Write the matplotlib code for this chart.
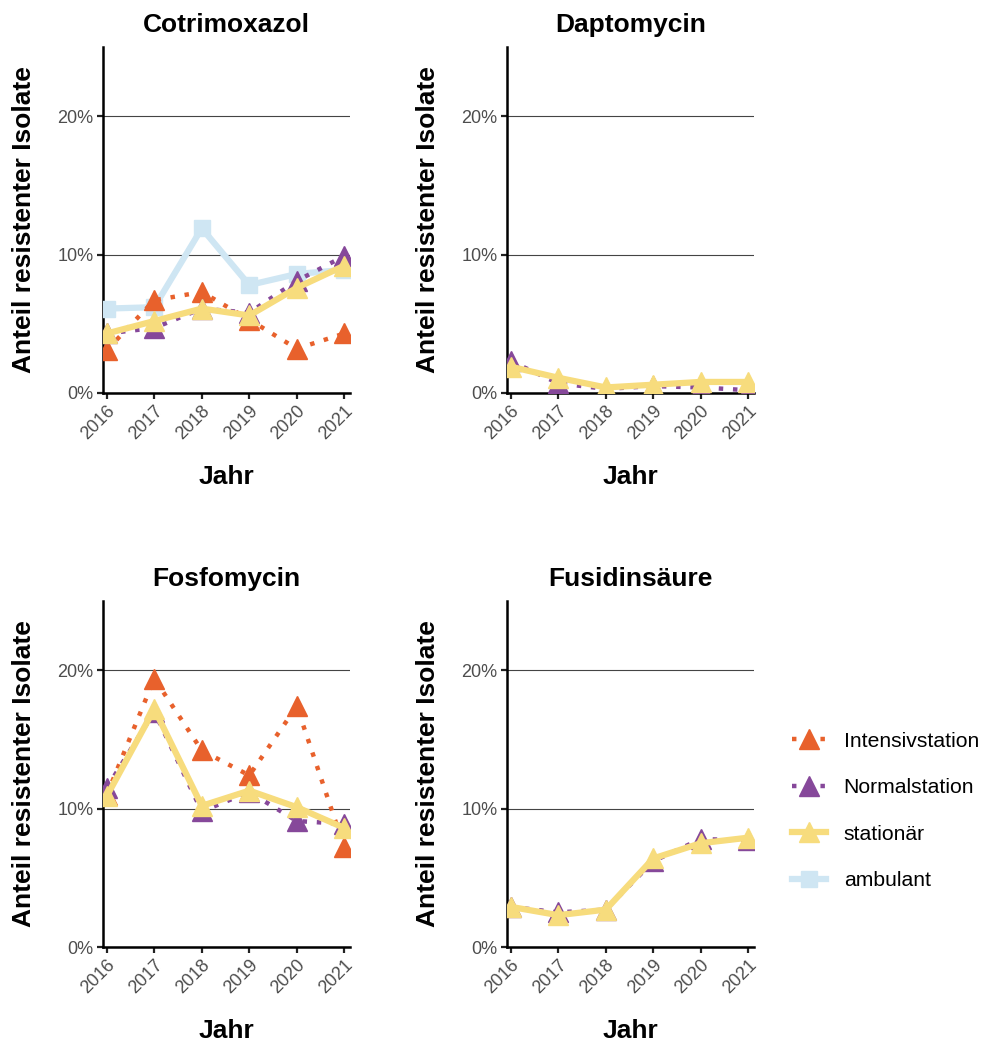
import numpy as np
import matplotlib
matplotlib.use("Agg")
import matplotlib.pyplot as plt
from matplotlib.ticker import FuncFormatter
from matplotlib.lines import Line2D

plt.rcParams['font.family'] = ['Liberation Sans', 'DejaVu Sans']

years = [2016, 2017, 2018, 2019, 2020, 2021]

cotri_intensiv = [3.1, 6.7, 7.3, 5.3, 3.2, 4.3]
cotri_normal = [4.3, 4.7, 6.1, 5.8, 8.1, 9.9]
cotri_station = [4.3, 5.2, 6.1, 5.6, 7.6, 9.2]
cotri_ambulant = [6.1, 6.2, 11.9, 7.8, 8.6, 8.9]

dapto_normal = [2.3, 0.7, 0.3, 0.5, 0.4, 0.2]
dapto_station = [1.9, 1.1, 0.4, 0.6, 0.8, 0.8]

fosfo_intensiv = [11.0, 19.4, 14.2, 12.4, 17.4, 7.2]
fosfo_normal = [11.5, 17.0, 9.8, 11.2, 9.1, 8.9]
fosfo_station = [10.9, 17.2, 10.2, 11.3, 10.1, 8.6]

fusi_normal = [2.9, 2.5, 2.7, 6.2, 7.8, 7.7]
fusi_station = [2.9, 2.3, 2.7, 6.4, 7.5, 7.9]

titles = ["Cotrimoxazol", "Daptomycin", "Fosfomycin", "Fusidinsäure"]
series_labels = ["Intensivstation", "Normalstation", "stationär", "ambulant"]

panels = [
    {"Intensivstation": cotri_intensiv, "Normalstation": cotri_normal,
     "stationär": cotri_station, "ambulant": cotri_ambulant},
    {"Normalstation": dapto_normal, "stationär": dapto_station},
    {"Intensivstation": fosfo_intensiv, "Normalstation": fosfo_normal,
     "stationär": fosfo_station},
    {"Normalstation": fusi_normal, "stationär": fusi_station},
]

styles = {
    "ambulant": dict(color="#CFE6F3", ls="-", lw=4.5, marker="s", ms=12),
    "Intensivstation": dict(color="#E8612C", ls=(0, (1, 2.2)), lw=3.2, marker="^", ms=14),
    "Normalstation": dict(color="#86489A", ls=(0, (1, 2.2)), lw=3.2, marker="^", ms=14),
    "stationär": dict(color="#F7DC7D", ls="-", lw=4.5, marker="^", ms=14),
}
draw_order = ["ambulant", "Intensivstation", "Normalstation", "stationär"]

fig = plt.figure(figsize=(9.83, 10.42), dpi=100)
W, H = 983, 1042
lefts = [103, 507]
tops = [47, 601]
aw, ah = 247, 346

for i, (title, data) in enumerate(zip(titles, panels)):
    r, c = divmod(i, 2)
    l = lefts[c]; t = tops[r]
    ax = fig.add_axes([l / W, 1 - (t + ah) / H, aw / W, ah / H])
    for name in draw_order:
        if name in data:
            st = styles[name]
            ax.plot(years, data[name], color=st["color"], ls=st["ls"], lw=st["lw"],
                    marker=st["marker"], ms=st["ms"], mec=st["color"], zorder=3,
                    solid_capstyle="butt", dash_capstyle="butt")
    ax.set_xlim(2015.92, 2021.12)
    ax.set_ylim(0, 25)
    ax.set_yticks([0, 10, 20])
    ax.yaxis.set_major_formatter(FuncFormatter(lambda v, p: f"{int(v)}%"))
    ax.set_xticks(years)
    ax.set_xticklabels([str(y) for y in years], rotation=45, ha="right",
                       rotation_mode="anchor")
    ax.grid(axis="y", color="#444444", lw=0.8, zorder=1)
    ax.set_axisbelow(True)
    for s in ["top", "right"]:
        ax.spines[s].set_visible(False)
    for s in ["left", "bottom"]:
        ax.spines[s].set_linewidth(1.8)
        ax.spines[s].set_color("black")
    ax.tick_params(axis="both", labelcolor="#4D4D4D", labelsize=13, length=4,
                   width=1.6, color="#222222", pad=3)
    ax.set_title(title, fontsize=19, fontweight="bold", pad=11)
    ax.set_ylabel("Anteil resistenter Isolate", fontsize=19, fontweight="bold", labelpad=15)
    ax.set_xlabel("Jahr", fontsize=19, fontweight="bold", labelpad=16)

handles = []
for name in series_labels:
    st = styles[name]
    handles.append(Line2D([0], [0], color=st["color"], ls=st["ls"], lw=st["lw"],
                          marker=st["marker"], ms=st["ms"], mec=st["color"]))
leg = fig.legend(handles, series_labels, loc="center left",
                 bbox_to_anchor=(773 / W, 1 - 811 / H), frameon=False,
                 fontsize=15.2, handlelength=1.6, labelspacing=1.3, handletextpad=0.85)

fig.savefig("out.png", dpi=100)
